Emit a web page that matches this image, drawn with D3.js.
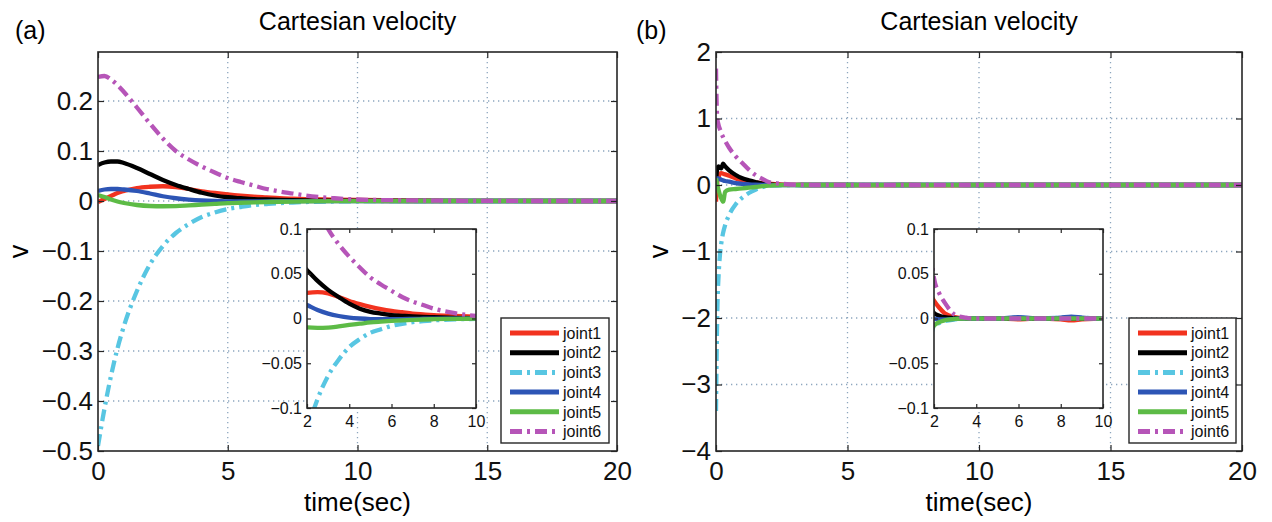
<!DOCTYPE html>
<html>
<head>
<meta charset="utf-8">
<script src="https://cdn.jsdelivr.net/npm/d3@7"></script>
<style>
  body { margin: 0; background: #fff; }
  svg { display: block; font-family: "Liberation Sans", Arial, Helvetica, sans-serif; }
</style>
</head>
<body>
<svg id="fig" width="1272" height="522"></svg>
<script>
const jointNames = ["joint1", "joint2", "joint3", "joint4", "joint5", "joint6"];
const jointColors = ["#f2331f", "#000000", "#58c6e2", "#2d55b5", "#5dbb46", "#b655b8"];
const jointDashDot = [false, false, true, false, false, true];

// panel (a)
const timeA = [0, 0.25, 0.5, 0.75, 1, 1.5, 2, 2.5, 3, 3.5, 4, 4.5, 5, 5.5, 6, 6.5, 7, 7.5, 8, 9, 10, 12, 14, 16, 18, 20];
const a_joint1 = [-0.002, 0.004, 0.01, 0.016, 0.02, 0.026, 0.0285, 0.0295, 0.028, 0.024, 0.0195, 0.016, 0.013, 0.0105, 0.0085, 0.007, 0.0055, 0.0046, 0.0038, 0.0028, 0.002, 0.001, 0.0004, 0.0001, 0, 0];
const a_joint2 = [0.072, 0.077, 0.079, 0.079, 0.076, 0.066, 0.054, 0.042, 0.032, 0.024, 0.0165, 0.011, 0.0075, 0.0055, 0.0038, 0.003, 0.0023, 0.0018, 0.0014, 0.0008, 0.0003, 0, 0, 0, 0, 0];
const a_joint3 = [-0.49, -0.415, -0.35, -0.295, -0.25, -0.18, -0.127, -0.09, -0.064, -0.046, -0.032, -0.023, -0.016, -0.012, -0.0082, -0.006, -0.0041, -0.003, -0.0021, -0.001, -0.0005, -0.0001, 0, 0, 0, 0];
const a_joint4 = [0.02, 0.023, 0.024, 0.024, 0.023, 0.02, 0.015, 0.0095, 0.0055, 0.0028, 0.001, 0.0, -0.0006, -0.0008, -0.0007, -0.0006, -0.0004, -0.0003, -0.0002, -0.0001, 0, 0, 0, 0, 0, 0];
const a_joint5 = [0.012, 0.008, 0.003, -0.001, -0.004, -0.008, -0.01, -0.0105, -0.0102, -0.0088, -0.0072, -0.0058, -0.0044, -0.0035, -0.0027, -0.002, -0.0015, -0.0011, -0.0008, -0.0004, -0.0002, 0, 0, 0, 0, 0];
const a_joint6 = [0.248, 0.25, 0.243, 0.232, 0.218, 0.187, 0.155, 0.125, 0.1, 0.083, 0.069, 0.057, 0.046, 0.038, 0.031, 0.024, 0.019, 0.015, 0.011, 0.006, 0.003, 0.0012, 0.0004, 0.0001, 0, 0];

// panel (b)
const timeB = [0, 0.02, 0.05, 0.1, 0.15, 0.2, 0.27, 0.35, 0.5, 0.75, 1, 1.25, 1.5, 1.75, 2, 2.25, 2.5, 3, 3.5, 4, 5, 6, 7, 8, 8.5, 9, 10, 12, 14, 16, 18, 20];
const b_joint1 = [-0.25, -0.1, 0.05, 0.12, 0.17, 0.18, 0.17, 0.16, 0.14, 0.1, 0.07, 0.055, 0.04, 0.03, 0.02, 0.012, 0.006, 0.0015, 0, 0, 0, -0.001, 0, -0.001, -0.002, -0.001, 0, 0, 0, 0, 0, 0];
const b_joint2 = [0, 0.15, 0.25, 0.28, 0.26, 0.25, 0.32, 0.28, 0.22, 0.15, 0.1, 0.07, 0.045, 0.022, 0.006, 0.003, 0.0015, 0.0005, 0, 0, 0, 0, 0, 0, 0, 0, 0, 0, 0, 0, 0, 0];
const b_joint3 = [-3.4, -2.7, -1.9, -1.35, -1.05, -0.88, -0.72, -0.6, -0.45, -0.29, -0.19, -0.12, -0.07, -0.035, -0.008, -0.005, -0.003, -0.001, 0, 0, 0, 0.001, 0, 0.001, 0.0015, 0.001, 0, 0, 0, 0, 0, 0];
const b_joint4 = [0.05, 0.08, 0.1, 0.1, 0.09, 0.08, 0.07, 0.06, 0.05, 0.03, 0.018, 0.01, 0.005, 0.002, 0, -0.001, -0.001, -0.0005, 0, 0, 0, 0.0015, 0, 0.001, 0.002, 0.001, 0, 0, 0, 0, 0, 0];
const b_joint5 = [0.1, 0.06, 0, -0.08, -0.15, -0.2, -0.25, -0.1, -0.07, -0.06, -0.05, -0.04, -0.03, -0.018, -0.008, -0.004, -0.002, -0.0005, 0, 0, 0, 0, 0, 0, 0, 0, 0, 0, 0, 0, 0, 0];
const b_joint6 = [1.75, 1.3, 1.0, 0.9, 0.84, 0.78, 0.72, 0.66, 0.56, 0.43, 0.33, 0.23, 0.15, 0.095, 0.045, 0.028, 0.018, 0.004, 0.001, 0, 0, 0, 0, 0, 0, 0, 0, 0, 0, 0, 0, 0];

// ticks
const mainXTicks = [0, 5, 10, 15, 20];
const yTicksA = [-0.5, -0.4, -0.3, -0.2, -0.1, 0, 0.1, 0.2];
const yTicksB = [-4, -3, -2, -1, 0, 1, 2];
const insetXTicks = [2, 4, 6, 8, 10];
const insetYTicks = [-0.1, -0.05, 0, 0.05, 0.1];

const svg = d3.select('#fig');
const fmt = d3.format('');
const frameColor = '#262626';
const gridColor = '#8da6be';

function seriesOf(time, arrs) {
    return arrs.map((vals, i) => ({
        name: jointNames[i],
        color: jointColors[i],
        dashDot: jointDashDot[i],
        points: time.map((t, k) => [t, vals[k]])
    }));
}

function drawLines(g, series, x, y, clipId, width) {
    const line = d3.line()
        .x(d => x(d[0]))
        .y(d => y(d[1]))
        .curve(d3.curveMonotoneX);
    g.append('g')
        .attr('clip-path', `url(#${clipId})`)
        .selectAll('path')
        .data(series)
        .enter()
        .append('path')
        .attr('d', s => line(s.points))
        .attr('fill', 'none')
        .attr('stroke', s => s.color)
        .attr('stroke-width', width)
        .attr('stroke-linejoin', 'round')
        .attr('stroke-dasharray', s => s.dashDot ? '12,5,3,5' : null);
}

function addClip(id, x0, y0, w, h) {
    svg.append('clipPath').attr('id', id)
        .append('rect').attr('x', x0).attr('y', y0).attr('width', w).attr('height', h);
}

// frame with inward ticks on all four sides, labels on bottom and left
function drawAxes(parent, x, y, xTicks, yTicks, fontSize, tickLen, xPad) {
    const g = parent.append('g');
    const [x0, x1] = x.range();
    const [y0, y1] = y.range(); // y0 = bottom, y1 = top

    g.append('g')
        .attr('transform', `translate(0, ${y0})`)
        .call(d3.axisBottom(x).tickValues(xTicks).tickSize(-tickLen).tickPadding(xPad).tickFormat(fmt));
    g.append('g')
        .attr('transform', `translate(${x0}, 0)`)
        .call(d3.axisLeft(y).tickValues(yTicks).tickSize(-tickLen).tickPadding(5).tickFormat(fmt));
    g.append('g')
        .attr('transform', `translate(0, ${y1})`)
        .call(d3.axisTop(x).tickValues(xTicks).tickSize(-tickLen).tickFormat(''));
    g.append('g')
        .attr('transform', `translate(${x1}, 0)`)
        .call(d3.axisRight(y).tickValues(yTicks).tickSize(-tickLen).tickFormat(''));

    g.selectAll('.domain').remove();
    g.selectAll('.tick line').attr('stroke', frameColor).attr('stroke-width', 1.2);
    g.selectAll('.tick text')
        .attr('fill', '#111')
        .style('font-size', fontSize + 'px')
        .style('font-family', '"Liberation Sans", Arial, sans-serif');

    g.append('rect')
        .attr('x', x0).attr('y', y1)
        .attr('width', x1 - x0).attr('height', y0 - y1)
        .attr('fill', 'none')
        .attr('stroke', frameColor)
        .attr('stroke-width', 1.6);
}

function drawPanel(cfg) {
    const g = svg.append('g');
    const x = d3.scaleLinear().domain([0, 20]).range([cfg.left, cfg.right]);
    const y = d3.scaleLinear().domain(cfg.yDomain).range([cfg.bottom, cfg.top]);

    // dotted grid
    const grid = g.append('g');
    grid.selectAll('line.gx')
        .data(mainXTicks.filter(t => t > 0 && t < 20))
        .enter().append('line')
        .attr('x1', d => x(d)).attr('x2', d => x(d))
        .attr('y1', cfg.top).attr('y2', cfg.bottom);
    grid.selectAll('line.gy')
        .data(cfg.yTicks.filter(v => y(v) > cfg.top + 2 && y(v) < cfg.bottom - 2))
        .enter().append('line')
        .attr('x1', cfg.left).attr('x2', cfg.right)
        .attr('y1', d => y(d)).attr('y2', d => y(d));
    grid.selectAll('line')
        .attr('stroke', gridColor)
        .attr('stroke-width', 1.3)
        .attr('stroke-dasharray', '1.3,3.7');

    const clipId = 'clip-' + cfg.id;
    addClip(clipId, cfg.left, cfg.top, cfg.right - cfg.left, cfg.bottom - cfg.top);
    drawLines(g, cfg.series, x, y, clipId, 4.3);

    drawAxes(g, x, y, mainXTicks, cfg.yTicks, 26, 6, 11);

    // inset
    const ins = cfg.inset;
    const ix = d3.scaleLinear().domain([2, 10]).range([ins.left, ins.right]);
    const iy = d3.scaleLinear().domain([-0.1, 0.1]).range([ins.bottom, ins.top]);
    g.append('rect')
        .attr('x', ins.left).attr('y', ins.top)
        .attr('width', ins.right - ins.left).attr('height', ins.bottom - ins.top)
        .attr('fill', '#fff');
    const insClip = 'clip-inset-' + cfg.id;
    addClip(insClip, ins.left, ins.top, ins.right - ins.left, ins.bottom - ins.top);
    drawLines(g, cfg.series, ix, iy, insClip, 4.3);
    drawAxes(g, ix, iy, insetXTicks, insetYTicks, 16, 4, 8);

    // legend
    const lg = cfg.legend;
    const leg = g.append('g').attr('transform', `translate(${lg.x}, ${lg.y})`);
    leg.append('rect')
        .attr('width', lg.w).attr('height', lg.h)
        .attr('fill', '#fff')
        .attr('stroke', frameColor)
        .attr('stroke-width', 1.4);
    const rows = leg.selectAll('g.row')
        .data(cfg.series)
        .enter().append('g')
        .attr('transform', (d, i) => `translate(0, ${15 + i * 19.7})`);
    rows.append('line')
        .attr('x1', 9).attr('x2', 58)
        .attr('stroke', d => d.color)
        .attr('stroke-width', 5)
        .attr('stroke-dasharray', d => d.dashDot ? '12,5,3,5' : null);
    rows.append('text')
        .attr('x', 62).attr('dy', '0.36em')
        .style('font-size', '16px')
        .attr('fill', '#111')
        .text(d => d.name);

    // titles and labels
    g.append('text')
        .attr('x', (cfg.left + cfg.right) / 2).attr('y', 30)
        .attr('text-anchor', 'middle')
        .style('font-size', '25px')
        .text('Cartesian velocity');
    g.append('text')
        .attr('x', cfg.tagX).attr('y', 39)
        .style('font-size', '25px')
        .text(cfg.tag);
    g.append('text')
        .attr('x', (cfg.left + cfg.right) / 2).attr('y', 511)
        .attr('text-anchor', 'middle')
        .style('font-size', '26px')
        .text('time(sec)');
    g.append('text')
        .attr('transform', `translate(${cfg.yLabelX}, ${(cfg.top + cfg.bottom) / 2}) rotate(-90)`)
        .attr('text-anchor', 'middle')
        .attr('dy', '0.35em')
        .style('font-size', '27px')
        .text('v');
}

drawPanel({
    id: 'a', tag: '(a)', tagX: 15, yLabelX: 19,
    left: 98, right: 617, top: 52, bottom: 451,
    yDomain: [-0.5, 0.298], yTicks: yTicksA,
    series: seriesOf(timeA, [a_joint1, a_joint2, a_joint3, a_joint4, a_joint5, a_joint6]),
    inset: { left: 307, right: 476, top: 229, bottom: 408 },
    legend: { x: 501, y: 318, w: 108, h: 125 }
});

drawPanel({
    id: 'b', tag: '(b)', tagX: 636, yLabelX: 659,
    left: 716, right: 1242, top: 52, bottom: 451,
    yDomain: [-4, 2], yTicks: yTicksB,
    series: seriesOf(timeB, [b_joint1, b_joint2, b_joint3, b_joint4, b_joint5, b_joint6]),
    inset: { left: 934, right: 1103, top: 229, bottom: 408 },
    legend: { x: 1129, y: 318, w: 107, h: 125 }
});
</script>
</body>
</html>
